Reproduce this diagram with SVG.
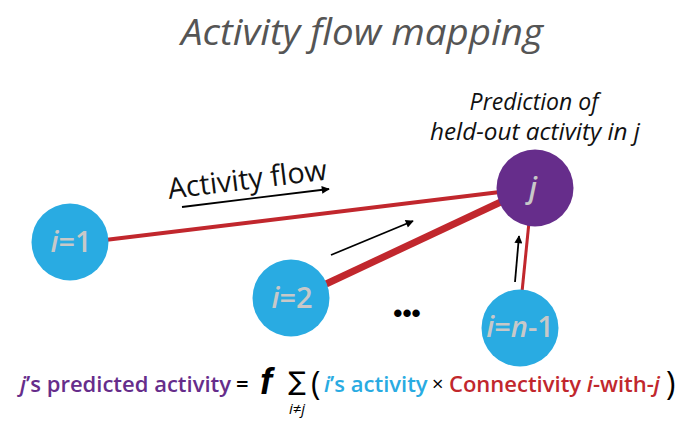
<svg xmlns="http://www.w3.org/2000/svg" width="698" height="433" viewBox="0 0 698 433">
<defs>
<style>
.title{font-family:"Open Sans","Liberation Sans",sans-serif;font-style:italic;font-size:37px;fill:#555555}
.lbl{font-family:"Open Sans","Liberation Sans",sans-serif;font-style:italic;font-size:23px;fill:#111}
.flow{font-family:"Open Sans","Liberation Sans",sans-serif;font-size:29px;fill:#111}
.src{fill:#29abe2}
.tgt{fill:#662d8b}
.nt{font-family:"Open Sans","Liberation Sans",sans-serif;font-weight:600;font-size:29px;fill:#c8c8c8;text-anchor:middle}
.conn{stroke:#c1272d;fill:none}
.arr{stroke:#000;stroke-width:1.8;fill:none;marker-end:url(#ah)}
.eq{font-family:"Open Sans","Liberation Sans",sans-serif;font-weight:600;font-size:22px}
</style>
<marker id="ah" viewBox="0 0 10 10" refX="9" refY="5" markerWidth="9" markerHeight="8" orient="auto" markerUnits="userSpaceOnUse">
<path d="M0,0 L10,5 L0,10 z" fill="#000"/>
</marker>
</defs>
<rect width="698" height="433" fill="#fff"/>
<text class="title" x="362" y="45" text-anchor="middle" textLength="362" lengthAdjust="spacingAndGlyphs">Activity flow mapping</text>
<g id="connectors">
<line class="conn" x1="105" y1="240" x2="500" y2="192" stroke-width="4"/>
<line class="conn" x1="326" y1="284" x2="505" y2="200" stroke-width="7"/>
<line class="conn" x1="522" y1="292" x2="529" y2="222" stroke-width="3"/>
<line class="arr" x1="182" y1="207" x2="329" y2="189"/>
<line class="arr" x1="331" y1="255" x2="413" y2="221"/>
<line class="arr" x1="515" y1="282" x2="519" y2="236"/>
</g>
<text class="flow" transform="translate(169,199) rotate(-7)" textLength="160" lengthAdjust="spacingAndGlyphs">Activity flow</text>
<g id="node-j">
<circle class="tgt" cx="535" cy="188" r="38.5"/>
<text class="nt" x="533" y="198" font-style="italic">j</text>
</g>
<text class="lbl" x="534" y="110" text-anchor="middle">Prediction of</text>
<text class="lbl" x="535" y="140" text-anchor="middle" textLength="210" lengthAdjust="spacingAndGlyphs">held-out activity in j</text>
<g id="node-i1">
<circle class="src" cx="70" cy="242" r="38.5"/>
<text class="nt" x="71" y="252"><tspan font-style="italic">i</tspan>=1</text>
</g>
<g id="node-i2">
<circle class="src" cx="291" cy="298" r="38.5"/>
<text class="nt" x="292" y="308"><tspan font-style="italic">i</tspan>=2</text>
</g>
<g id="node-in1">
<circle class="src" cx="520" cy="328" r="38.5"/>
<text class="nt" x="520" y="337" font-size="23"><tspan font-style="italic">i</tspan>=<tspan font-style="italic">n</tspan>-1</text>
</g>
<text x="407" y="322" font-family="Liberation Sans,sans-serif" font-size="26" font-weight="bold" text-anchor="middle" fill="#000">•••</text>
<g id="equation">
<text class="eq" x="20" y="392" fill="#662d8b" font-size="21"><tspan font-style="italic">j</tspan>’s predicted activity</text>
<text class="eq" x="236" y="392" fill="#000">=</text>
<text x="260" y="394" font-family="Liberation Sans,sans-serif" font-style="italic" font-weight="bold" font-size="36" fill="#000">f</text>
<text x="297" y="390" font-family="DejaVu Sans,sans-serif" font-size="26" text-anchor="middle" fill="#000">∑</text>
<text x="297" y="414" font-family="Open Sans,Liberation Sans,sans-serif" font-size="15" text-anchor="middle" fill="#000"><tspan font-style="italic">i</tspan>≠<tspan font-style="italic">j</tspan></text>
<text x="311" y="395" font-family="Open Sans,Liberation Sans,sans-serif" font-size="32" fill="#000">(</text>
<text class="eq" x="324" y="392" fill="#29abe2"><tspan font-style="italic">i</tspan>’s activity</text>
<text x="432" y="391" font-family="Open Sans,Liberation Sans,sans-serif" font-size="20" fill="#000">×</text>
<text class="eq" x="449" y="392" fill="#c1272d">Connectivity <tspan font-style="italic">i</tspan>-with-<tspan font-style="italic">j</tspan></text>
<text x="666" y="395" font-family="Open Sans,Liberation Sans,sans-serif" font-size="32" fill="#000">)</text>
</g>
</svg>
